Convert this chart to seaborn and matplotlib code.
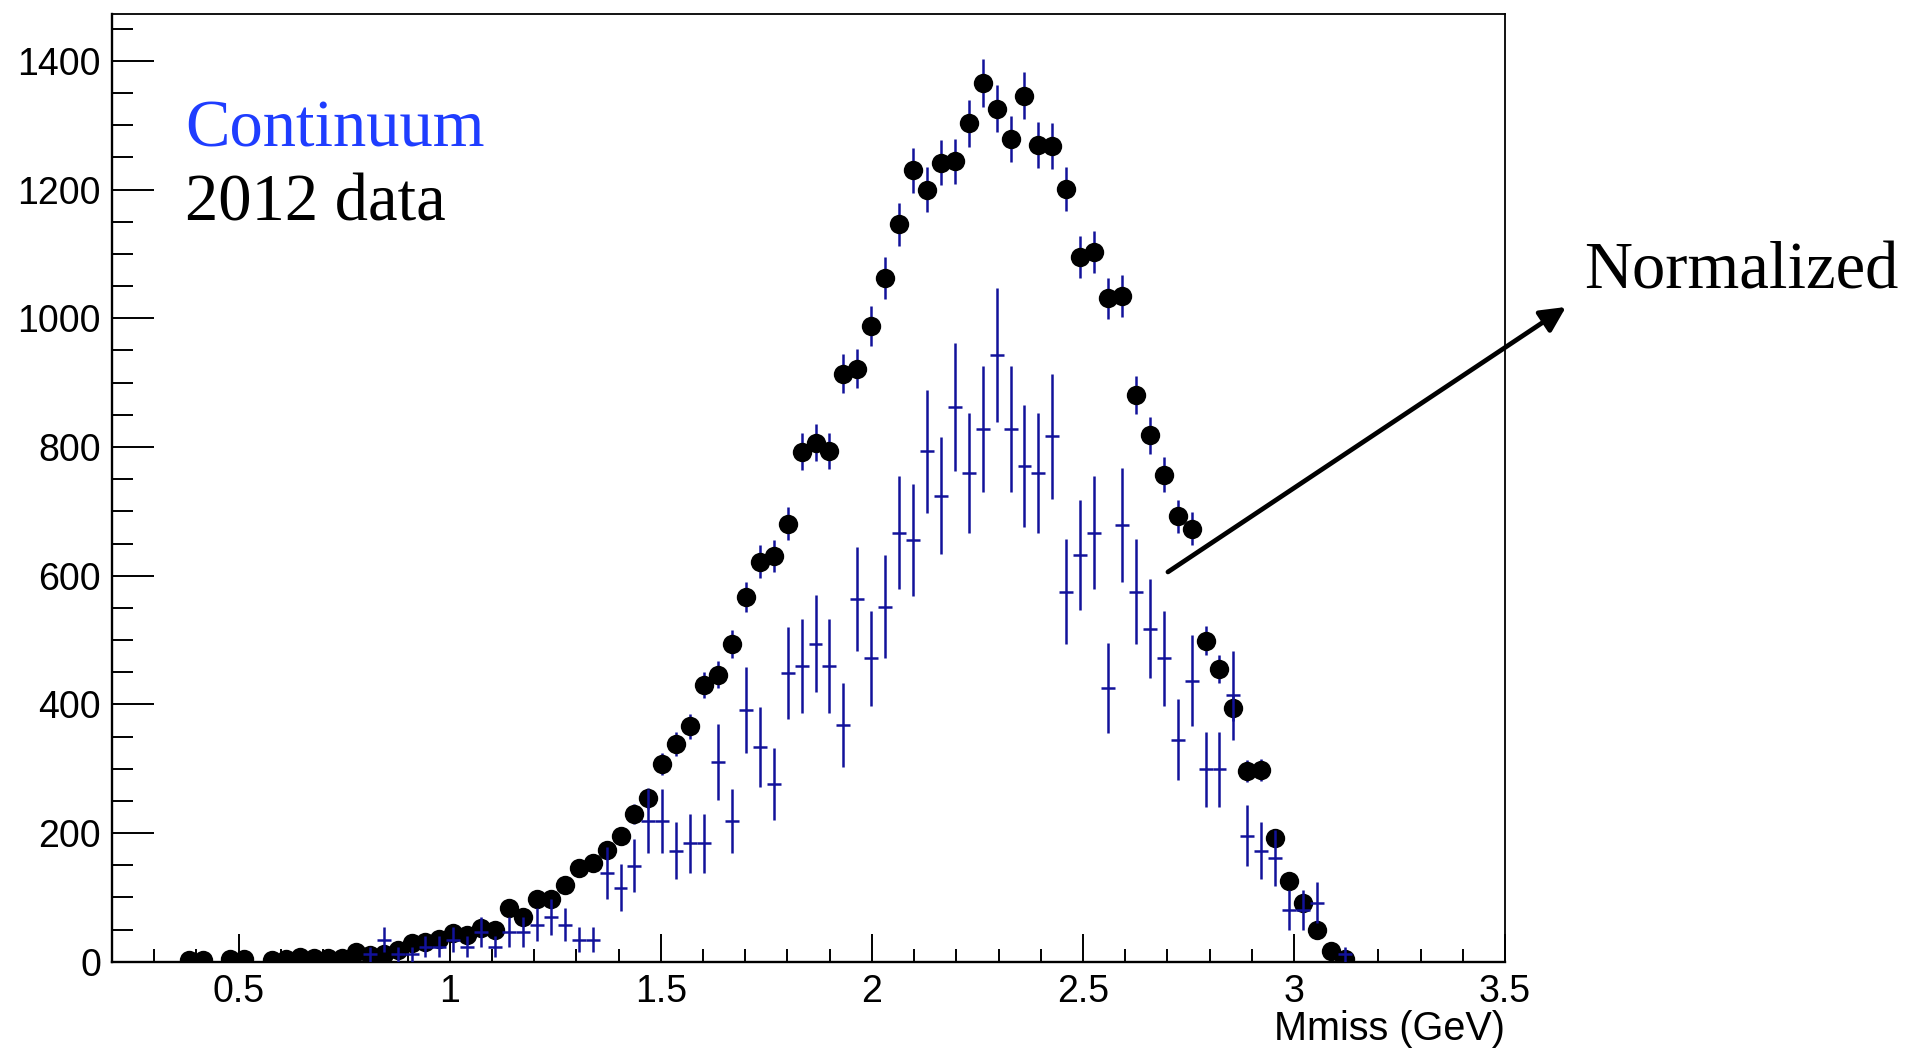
import numpy as np
import pandas as pd
import matplotlib
matplotlib.use("Agg")
import matplotlib.pyplot as plt
import seaborn as sns
from matplotlib.ticker import MultipleLocator, FuncFormatter
from matplotlib.patches import FancyArrowPatch

# ---- histogram definition: 100 bins over [0.2, 3.5] GeV ----
X_LO, X_HI, N_BINS = 0.2, 3.5, 100

# 2012 data: event counts per bin, starting at bin index 5
data_first_bin = 5
data_counts = [
    3, 3, 0, 4, 4, 0, 3, 5, 8, 6, 6, 6, 15, 10, 12, 18,
    29, 31, 36, 44, 41, 53, 49, 83, 70, 97,
    98, 119, 145, 154, 174, 196, 230, 254, 307, 338,
    366, 430, 446, 494, 567, 622, 631, 681, 793, 807,
    794, 914, 922, 988, 1062, 1146, 1230, 1200, 1242, 1244,
    1303, 1366, 1326, 1278, 1346, 1270, 1268, 1201, 1095, 1103,
    1031, 1035, 881, 818, 757, 692, 673, 499, 455, 394,
    297, 298, 193, 125, 92, 49, 17, 5,
]

# Continuum sample: raw counts per bin (starting at bin 18) and its normalisation weight
cont_first_bin = 18
cont_counts = [
    1, 3, 1, 1, 2, 2, 3, 2, 4, 2,
    4, 4, 5, 6, 5, 3, 3, 12, 10, 13,
    19, 19, 15, 16, 16, 27, 19, 34, 29, 24,
    39, 40, 43, 40, 32, 49, 41, 48, 58, 57,
    69, 63, 75, 66, 72, 82, 72, 67, 66, 71,
    50, 55, 58, 37, 59, 50, 45, 41, 30, 38,
    26, 26, 36, 17, 15, 14, 7, 7, 8, 0, 1,
]
cont_weight = 11.5

legend_cont = "Continuum"
legend_data = "2012 data"
note_text = "Normalized"
x_title = "Mmiss (GeV)"

NAVY = "#12129a"
BRIGHT_BLUE = "#1f3dff"

edges = np.linspace(X_LO, X_HI, N_BINS + 1)
centers = 0.5 * (edges[:-1] + edges[1:])
half_w = 0.5 * (edges[1] - edges[0])

data = pd.DataFrame({
    "mmiss": centers[data_first_bin:data_first_bin + len(data_counts)],
    "events": np.array(data_counts, dtype=float),
})
data = data[data["events"] > 0]

cont_n = np.array(cont_counts, dtype=float)
cont = pd.DataFrame({
    "mmiss": centers[cont_first_bin:cont_first_bin + len(cont_counts)],
    "events": cont_n * cont_weight,
    "err": np.sqrt(cont_n) * cont_weight,
})
cont = cont[cont["events"] > 0]

sns.set_theme(style="ticks")
plt.rcParams["font.family"] = ["Liberation Sans", "DejaVu Sans"]

fig = plt.figure(figsize=(19.09, 10.52), dpi=100)
fig.patch.set_facecolor("white")
ax = fig.add_axes([0.0587, 0.0858, 0.7297, 0.9009])

# data error bars underneath the markers
ax.errorbar(data["mmiss"], data["events"], yerr=np.sqrt(data["events"]),
            fmt="none", ecolor=NAVY, elinewidth=1.8, capsize=0, zorder=2)
sns.scatterplot(data=data, x="mmiss", y="events", ax=ax, color="black",
                s=195, linewidth=0, marker="o", zorder=3, legend=False)

# normalised continuum as crosses (bin width x stat. error)
ax.errorbar(cont["mmiss"], cont["events"], xerr=half_w, yerr=cont["err"],
            fmt="none", ecolor=NAVY, elinewidth=1.8, capsize=0, zorder=4)

ax.set_xlim(X_LO, X_HI)
ax.set_ylim(0, 1473)

ax.xaxis.set_major_locator(MultipleLocator(0.5))
ax.xaxis.set_minor_locator(MultipleLocator(0.1))
ax.yaxis.set_major_locator(MultipleLocator(200))
ax.yaxis.set_minor_locator(MultipleLocator(50))
ax.xaxis.set_major_formatter(FuncFormatter(lambda v, p: f"{v:g}"))

ax.tick_params(axis="both", which="both", direction="in", color="black",
               width=1.4, top=False, right=False, labelsize=27,
               labelcolor="black")
ax.tick_params(axis="y", which="major", length=30, pad=8)
ax.tick_params(axis="y", which="minor", length=15)
ax.tick_params(axis="x", which="major", length=20, pad=9)
ax.tick_params(axis="x", which="minor", length=9.6)

for side in ["left", "bottom", "top", "right"]:
    ax.spines[side].set_visible(True)
    ax.spines[side].set_color("black")
    ax.spines[side].set_linewidth(1.7)
ax.spines["top"].set_linewidth(1.3)
ax.spines["right"].set_linewidth(1.3)

ax.set_ylabel("")
ax.set_xlabel(x_title, fontsize=28.5, color="black", ha="right")
ax.xaxis.set_label_coords(1.0, -0.051)

serif = ["Liberation Serif", "DejaVu Serif"]
fig.text(0.0969, 0.8606, legend_cont, color=BRIGHT_BLUE, fontsize=48,
         family=serif, va="baseline", ha="left")
fig.text(0.0969, 0.7902, legend_data, color="black", fontsize=48,
         family=serif, va="baseline", ha="left")
fig.text(0.8300, 0.7262, note_text, color="black", fontsize=48,
         family=serif, va="baseline", ha="left")

arrow = FancyArrowPatch((0.6118, 0.4563), (0.8203, 0.7082),
                        transform=fig.transFigure, arrowstyle="-|>",
                        mutation_scale=38, lw=3.4, color="black",
                        shrinkA=0, shrinkB=0)
fig.add_artist(arrow)

fig.savefig("out.png", dpi=100, facecolor="white")
